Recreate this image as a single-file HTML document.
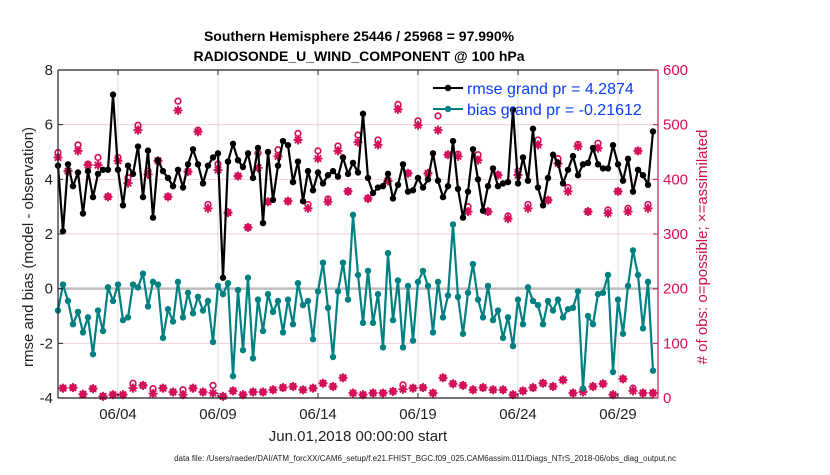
<!DOCTYPE html>
<html><head><meta charset="utf-8"><style>
body{margin:0;background:#fff;}
svg text{font-family:"Liberation Sans",sans-serif;}
</style></head><body>
<svg id="chart" width="830" height="470" viewBox="0 0 830 470" xmlns="http://www.w3.org/2000/svg">
<rect width="830" height="470" fill="#fff"/>
<text x="359" y="41" text-anchor="middle" font-size="14" font-weight="bold">Southern Hemisphere 25446 / 25968 = 97.990%</text>
<text x="359" y="61" text-anchor="middle" font-size="14" font-weight="bold">RADIOSONDE_U_WIND_COMPONENT @ 100 hPa</text>
<g id="grid"></g>
<g id="series"></g>
<g id="axes"></g>
<text transform="translate(33,247) rotate(-90)" text-anchor="middle" font-size="15" fill="#222">rmse and bias (model - observation)</text>
<text transform="translate(707,247) rotate(-90)" text-anchor="middle" font-size="15" fill="#cc1050">#  of obs: o=possible; ×=assimilated</text>
<text x="358" y="441" text-anchor="middle" font-size="15" fill="#222">Jun.01,2018 00:00:00 start</text>
<text x="425" y="461" text-anchor="middle" font-size="8" fill="#222">data file: /Users/raeder/DAI/ATM_forcXX/CAM6_setup/f.e21.FHIST_BGC.f09_025.CAM6assim.011/Diags_NTrS_2018-06/obs_diag_output.nc</text>
<g id="legend">
<line x1="433" y1="88" x2="463" y2="88" stroke="#000" stroke-width="2"/><circle cx="448" cy="88" r="3.2" fill="#000"/>
<text x="467" y="94" font-size="16" fill="#0a3cff">rmse grand pr = 4.2874</text>
<line x1="433" y1="109" x2="463" y2="109" stroke="#008080" stroke-width="2"/><circle cx="448" cy="109" r="3.2" fill="#008080"/>
<text x="467" y="115" font-size="16" fill="#0a3cff">bias grand pr = -0.21612</text>
</g>
</svg>
<script>
const rmse=[4.5,2.1,4.55,3.75,4.25,2.75,4.3,3.35,4.2,4.35,4.35,7.1,4.35,3.05,4.5,4.2,5.2,3.35,5.05,2.6,4.7,4.3,4.05,3.75,4.35,3.7,4.55,5.1,4.55,3.85,4.5,
4.8,4.95,0.4,4.65,5.3,4.7,4.45,4.95,4.05,5.15,2.4,5.0,3.25,4.5,5.4,5.25,3.9,4.65,3.2,4.3,3.6,4.25,3.85,4.15,4.3,4.1,4.8,4.2,4.6,4.25,
6.4,4.05,3.5,3.7,3.75,4.2,3.3,3.8,4.55,3.55,3.6,4.05,3.7,4.0,4.95,3.95,3.35,3.75,5.4,3.65,2.6,3.55,5.1,4.0,2.85,3.75,4.4,3.75,3.85,3.9,
6.55,3.85,4.8,3.95,5.85,3.7,3.05,4.05,4.9,4.6,3.85,4.35,4.85,4.15,4.55,4.6,5.15,4.55,4.4,4.4,5.25,4.55,3.95,4.75,3.55,4.35,4.15,3.8,5.75];
const bias=[-0.8,0.15,-0.45,-1.3,-0.85,-1.6,-1.05,-2.4,-0.8,-1.55,0.05,-0.45,0.15,-1.15,-1.05,0.15,0.05,0.55,-0.65,0.25,0.15,-1.8,-0.75,-1.2,0.25,-1.05,-0.15,-0.9,-0.3,-0.8,-0.45,
-1.95,0.1,-0.2,0.2,-3.2,-0.05,-2.25,0.4,-2.55,-0.4,-1.55,-0.2,-0.85,-0.45,-1.6,-0.4,-1.3,0.2,-0.6,-0.45,-1.85,-0.1,0.95,-0.7,-2.5,-0.1,0.95,-0.4,2.7,0.5,
-1.25,0.65,-1.25,-0.2,-2.15,1.3,-1.15,0.3,-2.15,0.1,-1.9,0.25,0.65,0.1,-1.6,0.25,-1.05,-0.25,2.35,-0.3,-1.65,-0.15,0.9,-0.4,-1.05,0.1,-1.15,-0.8,-1.8,-1.05,
-2.1,-0.4,-1.3,0.05,-0.45,-0.6,-1.3,-0.45,-0.8,-0.4,-1.05,-0.75,-0.7,-0.1,-3.65,-1.0,-1.3,-0.2,-0.15,0.5,-3.05,-0.4,-1.65,0.1,1.4,0.5,-1.45,0.25,-3.0];
const possible=[449,18,415,19,463,7,428,17,440,3,368,6,440,6,403,27,499,23,415,17,434,18,368,11,543,15,414,18,490,11,354,
23,428,3,339,13,406,6,312,11,448,11,359,15,454,19,360,21,484,15,354,18,452,27,364,21,461,37,378,9,481,
6,365,9,472,9,397,12,537,24,411,18,507,19,411,9,516,37,445,26,446,23,350,15,445,19,341,15,408,15,333,
6,415,13,354,19,472,27,362,21,438,33,385,9,464,15,341,21,466,26,344,6,378,35,347,18,452,9,354,9];
const assimilated=[440,18,415,19,452,7,426,17,426,3,368,6,434,6,393,18,490,23,409,8,434,18,368,11,526,6,414,18,487,11,347,
9,417,3,339,13,406,6,312,11,421,11,359,15,442,19,360,21,472,15,347,18,438,27,359,21,452,37,378,9,468,
6,365,9,463,9,397,12,528,16,411,18,499,19,411,9,490,37,445,26,442,23,341,15,435,19,341,15,408,15,328,
6,408,13,347,19,463,27,362,21,429,33,378,9,460,11,341,21,457,26,338,6,378,35,341,13,452,9,347,9];
const stepDays=0.25;
const xTickDays=[3,8,13,18,23,28];
const xTickLabels=["06/04","06/09","06/14","06/19","06/24","06/29"];
const yLeftTicks=[8,6,4,2,0,-2,-4];
const yRightTicks=[600,500,400,300,200,100,0];

const X0=58,X1=658,Y0=70,Y1=398;
const xs=d=>X0+(d/30)*(X1-X0);
const yl=v=>Y1-(v+4)/12*(Y1-Y0);
const yr=v=>Y1-v/600*(Y1-Y0);
const NS="http://www.w3.org/2000/svg";
function mk(tag,attrs,parent){const e=document.createElementNS(NS,tag);for(const k in attrs)e.setAttribute(k,attrs[k]);parent.appendChild(e);return e;}
const grid=document.getElementById('grid'),ser=document.getElementById('series'),ax=document.getElementById('axes');
const RED="#d4105a";
yRightTicks.forEach(v=>{if(v>0&&v<600&&v!==200){const g=mk('line',{x1:X0,x2:X1,y1:yr(v),y2:yr(v),stroke:"#f0d0dc","stroke-width":1},grid);

}});
xTickDays.forEach(d=>{const g=mk('line',{x1:xs(d),x2:xs(d),y1:Y0,y2:Y1,stroke:"#dcdcdc","stroke-width":1},grid);

});
const z=mk('line',{x1:X0,x2:X1,y1:yl(0),y2:yl(0),stroke:"#bdbdbd","stroke-width":2.5},grid);


function star(cx,cy,p){const g=mk('g',{stroke:RED,"stroke-width":1.9},p);


for(let a=0;a<4;a++){const t=a*Math.PI/4;mk('line',{x1:cx-4.5*Math.cos(t),y1:cy-4.5*Math.sin(t),x2:cx+4.5*Math.cos(t),y2:cy+4.5*Math.sin(t)},g);}
mk('circle',{cx:cx,cy:cy,r:2.6,fill:RED,stroke:"none"},g);}
possible.forEach((v,i)=>{const c=mk('circle',{cx:xs(i*stepDays),cy:yr(v),r:2.8,fill:"none",stroke:RED,"stroke-width":1.7},ser);

});
assimilated.forEach((v,i)=>star(xs(i*stepDays),yr(v),ser));
function line(arr,color,name){const pts=arr.map((v,i)=>xs(i*stepDays).toFixed(1)+","+yl(v).toFixed(1)).join(" ");
const pl=mk('polyline',{points:pts,fill:"none",stroke:color,"stroke-width":2.2,"stroke-linejoin":"round"},ser);


arr.forEach((v,i)=>{const c=mk('circle',{cx:xs(i*stepDays),cy:yl(v),r:3.2,fill:color},ser);

});}
line(bias,"#008080","bias");
line(rmse,"#000000","rmse");
mk('line',{x1:X0,x2:X1,y1:Y0,y2:Y0,stroke:"#222","stroke-width":1.2},ax);
mk('line',{x1:X0,x2:X1,y1:Y1,y2:Y1,stroke:"#222","stroke-width":1.2},ax);
mk('line',{x1:X0,x2:X0,y1:Y0,y2:Y1,stroke:"#222","stroke-width":1.2},ax);
mk('line',{x1:X1,x2:X1,y1:Y0,y2:Y1,stroke:RED,"stroke-width":1.2},ax);
xTickDays.forEach((d,k)=>{mk('line',{x1:xs(d),x2:xs(d),y1:Y1,y2:Y1-5,stroke:"#222"},ax);mk('line',{x1:xs(d),x2:xs(d),y1:Y0,y2:Y0+5,stroke:"#222"},ax);
const t=mk('text',{x:xs(d),y:419,"text-anchor":"middle","font-size":15,fill:"#222"},ax);t.textContent=xTickLabels[k];

});
yLeftTicks.forEach(v=>{mk('line',{x1:X0,x2:X0+5,y1:yl(v),y2:yl(v),stroke:"#222"},ax);
const t=mk('text',{x:53,y:yl(v)+5,"text-anchor":"end","font-size":15,fill:"#222"},ax);t.textContent=v;

});
yRightTicks.forEach(v=>{mk('line',{x1:X1-5,x2:X1,y1:yr(v),y2:yr(v),stroke:RED},ax);
const t=mk('text',{x:663,y:yr(v)+5,"font-size":15,fill:RED},ax);t.textContent=v;

});
</script>
</body></html>
